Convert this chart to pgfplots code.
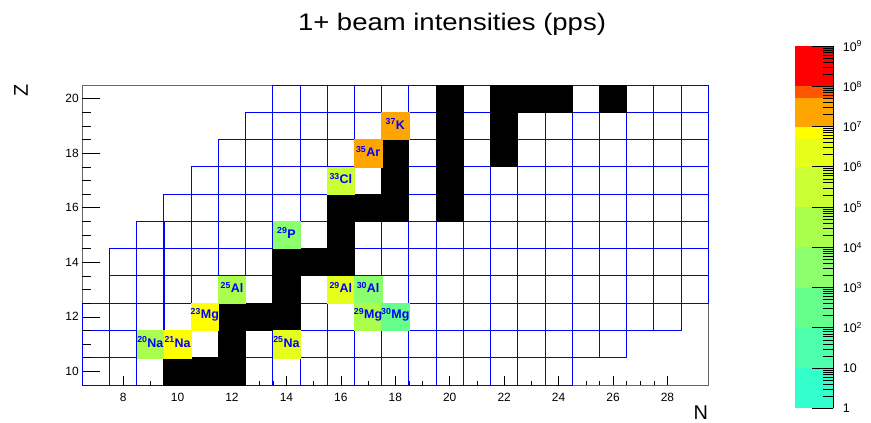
\documentclass[border=0pt]{standalone}
\usepackage{pgfplots}
\pgfplotsset{compat=1.18}
\usepackage{pgfplotstable}
\usepackage{fontspec}
\setmainfont{Liberation Sans}
\newfontfamily\titlefont[FakeStretch=1.15]{Liberation Sans}
\definecolor{cb0}{RGB}{51,255,204}
\definecolor{cb1}{RGB}{77,255,170}
\definecolor{cb2}{RGB}{102,255,140}
\definecolor{cb3}{RGB}{140,255,110}
\definecolor{cb4}{RGB}{170,255,77}
\definecolor{cb5}{RGB}{204,255,51}
\definecolor{cb6}{RGB}{230,255,26}
\definecolor{cb7}{RGB}{255,255,0}
\definecolor{cb8}{RGB}{255,165,0}
\definecolor{cb9}{RGB}{255,85,0}
\definecolor{cb10}{RGB}{255,0,0}
\definecolor{gridblue}{RGB}{0,0,255}

% beam cells: N Z band intensity(pps) label
\pgfplotstableread{
N  Z  band I   lab
9  11 b4   3e4 {\textsuperscript{20}Na}
10 11 b7   7e6 {\textsuperscript{21}Na}
11 12 b7   7e6 {\textsuperscript{23}Mg}
14 11 b6   2e6 {\textsuperscript{25}Na}
12 13 b4   3e4 {\textsuperscript{25}Al}
16 13 b6   2e6 {\textsuperscript{29}Al}
17 13 b3   3e3 {\textsuperscript{30}Al}
17 12 b4   3e4 {\textsuperscript{29}Mg}
18 12 b2   3e2 {\textsuperscript{30}Mg}
14 15 b3   3e3 {\textsuperscript{29}P}
16 17 b5   3e5 {\textsuperscript{33}Cl}
17 18 b8   2e7 {\textsuperscript{35}Ar}
18 19 b8   2e7 {\textsuperscript{37}K}
}\beams

\begin{document}
\begin{tikzpicture}
\path[use as bounding box] (0,0) rectangle (871bp,423bp);
\node[font=\titlefont\fontsize{24}{26}\selectfont, anchor=base] at (452bp,392bp) {1+ beam intensities (pps)};

\begin{axis}[
  at={(82.3bp,38bp)}, anchor=south west,
  scale only axis, width=626bp, height=300bp,
  xmin=6.5, xmax=29.5, ymin=9.5, ymax=20.5,
  xtick={8,10,...,28}, minor x tick num=3,
  ytick=\empty,
  xtick pos=left, tick align=inside,
  major tick length=9bp, minor tick length=4.5bp,
  axis line style={draw=black!60, line width=0.8bp},
  tick style={black, line width=0.6bp},
  /pgf/number format/assume math mode=true,
  xticklabel style={font=\fontsize{12}{13}\selectfont, yshift=-4.5bp},
  xlabel={N},
  xlabel style={at={(axis description cs:1,0)}, anchor=south east, yshift=-35bp, inner sep=0pt, font=\fontsize{20}{22}\selectfont},
]
% outlines of known nuclides
\addplot[only marks, mark=square, mark size=13.62bp, mark options={draw=gridblue, line width=0.9bp}] coordinates {
(7,10)(8,10)(9,10)(10,10)(11,10)(12,10)(13,10)(14,10)(15,10)(16,10)(17,10)(18,10)(19,10)(20,10)(21,10)(22,10)(23,10)(24,10)
(7,11)(8,11)(9,11)(10,11)(11,11)(12,11)(13,11)(14,11)(15,11)(16,11)(17,11)(18,11)(19,11)(20,11)(21,11)(22,11)(23,11)(24,11)(25,11)(26,11)
(7,12)(8,12)(9,12)(10,12)(11,12)(12,12)(13,12)(14,12)(15,12)(16,12)(17,12)(18,12)(19,12)(20,12)(21,12)(22,12)(23,12)(24,12)(25,12)(26,12)(27,12)(28,12)
(8,13)(9,13)(10,13)(11,13)(12,13)(13,13)(14,13)(15,13)(16,13)(17,13)(18,13)(19,13)(20,13)(21,13)(22,13)(23,13)(24,13)(25,13)(26,13)(27,13)(28,13)(29,13)
(8,14)(9,14)(10,14)(11,14)(12,14)(13,14)(14,14)(15,14)(16,14)(17,14)(18,14)(19,14)(20,14)(21,14)(22,14)(23,14)(24,14)(25,14)(26,14)(27,14)(28,14)(29,14)
(9,15)(10,15)(11,15)(12,15)(13,15)(14,15)(15,15)(16,15)(17,15)(18,15)(19,15)(20,15)(21,15)(22,15)(23,15)(24,15)(25,15)(26,15)(27,15)(28,15)(29,15)
(10,16)(11,16)(12,16)(13,16)(14,16)(15,16)(16,16)(17,16)(18,16)(19,16)(20,16)(21,16)(22,16)(23,16)(24,16)(25,16)(26,16)(27,16)(28,16)(29,16)
(11,17)(12,17)(13,17)(14,17)(15,17)(16,17)(17,17)(18,17)(19,17)(20,17)(21,17)(22,17)(23,17)(24,17)(25,17)(26,17)(27,17)(28,17)(29,17)
(12,18)(13,18)(14,18)(15,18)(16,18)(17,18)(18,18)(19,18)(20,18)(21,18)(22,18)(23,18)(24,18)(25,18)(26,18)(27,18)(28,18)(29,18)
(13,19)(14,19)(15,19)(16,19)(17,19)(18,19)(19,19)(20,19)(21,19)(22,19)(23,19)(24,19)(25,19)(26,19)(27,19)(28,19)(29,19)
(14,20)(15,20)(16,20)(17,20)(18,20)(19,20)(20,20)(21,20)(22,20)(23,20)(24,20)(25,20)(26,20)(27,20)(28,20)(29,20)
};
% stable nuclides
\addplot[only marks, mark=square*, mark size=13.62bp, mark options={fill=black, draw=black, line width=0.9bp}] coordinates {
(10,10)(11,10)(12,10)
(12,11)
(12,12)(13,12)(14,12)
(14,13)
(14,14)(15,14)(16,14)
(16,15)
(16,16)(17,16)(18,16)(20,16)
(18,17)(20,17)
(18,18)(20,18)(22,18)
(20,19)(22,19)
(20,20)(22,20)(23,20)(24,20)(26,20)
};
% beams: colour by intensity band
\addplot[scatter, only marks, mark=square*, mark size=13.62bp,
  point meta=explicit symbolic,
  scatter/classes={
    b0={mark=square*, fill=cb0, draw=cb0}, b1={mark=square*, fill=cb1, draw=cb1},
    b2={mark=square*, fill=cb2, draw=cb2}, b3={mark=square*, fill=cb3, draw=cb3},
    b4={mark=square*, fill=cb4, draw=cb4}, b5={mark=square*, fill=cb5, draw=cb5},
    b6={mark=square*, fill=cb6, draw=cb6}, b7={mark=square*, fill=cb7, draw=cb7},
    b8={mark=square*, fill=cb8, draw=cb8}, b9={mark=square*, fill=cb9, draw=cb9},
    b10={mark=square*, fill=cb10, draw=cb10}},
] table[x=N, y=Z, meta=band] {\beams};
% beam labels
\addplot[only marks, mark=none, point meta=explicit symbolic,
  nodes near coords,
  every node near coord/.append style={anchor=center, inner sep=0pt, yshift=2bp,
     text=gridblue, font=\bfseries\fontsize{12.5}{13}\selectfont},
] table[x=N, y=Z, meta=lab] {\beams};
\end{axis}

% y ticks (longer, as in the original)
\begin{axis}[
  at={(82.3bp,38bp)}, anchor=south west,
  scale only axis, width=626bp, height=300bp,
  xmin=6.5, xmax=29.5, ymin=9.5, ymax=20.5,
  xtick=\empty,
  ytick={10,12,...,20}, minor y tick num=3,
  ytick pos=left, tick align=inside,
  major tick length=18bp, minor tick length=9bp,
  axis line style={draw=none},
  tick style={black, line width=0.6bp},
  /pgf/number format/assume math mode=true,
  yticklabel style={font=\fontsize{12}{13}\selectfont},
  ylabel={Z},
  ylabel style={at={(axis description cs:-0.098,0.982)}, anchor=center, inner sep=0pt, font=\fontsize{20}{22}\selectfont},
]
\addplot[draw=none] coordinates {(7,10)};
\end{axis}

% colour scale
\begin{axis}[
  at={(795bp,14.7bp)}, anchor=south west,
  scale only axis, width=38.3bp, height=362.3bp,
  xmin=0, xmax=1, ymode=log, ymin=1, ymax=1e9,
  axis on top,
  axis x line=none, axis y line*=right,
  ytick={1,10,100,1000,10000,100000,1000000,10000000,100000000,1000000000},
  yticklabels={1,10,10\textsuperscript{2},10\textsuperscript{3},10\textsuperscript{4},10\textsuperscript{5},10\textsuperscript{6},10\textsuperscript{7},10\textsuperscript{8},10\textsuperscript{9}},
  tick align=inside,
  major tick length=21.7bp, minor tick length=10.7bp,
  axis line style={black, line width=0.6bp},
  tick style={black, line width=0.6bp},
  yticklabel style={font=\fontsize{12.5}{13}\selectfont, xshift=6bp},
]
\addplot[fill=cb0, draw=none] coordinates {(0,1) (1,1) (1,10) (0,10)};
\addplot[fill=cb1, draw=none] coordinates {(0,10) (1,10) (1,100) (0,100)};
\addplot[fill=cb2, draw=none] coordinates {(0,100) (1,100) (1,1e3) (0,1e3)};
\addplot[fill=cb3, draw=none] coordinates {(0,1e3) (1,1e3) (1,1e4) (0,1e4)};
\addplot[fill=cb4, draw=none] coordinates {(0,1e4) (1,1e4) (1,1e5) (0,1e5)};
\addplot[fill=cb5, draw=none] coordinates {(0,1e5) (1,1e5) (1,1e6) (0,1e6)};
\addplot[fill=cb6, draw=none] coordinates {(0,1e6) (1,1e6) (1,5e6) (0,5e6)};
\addplot[fill=cb7, draw=none] coordinates {(0,5e6) (1,5e6) (1,1e7) (0,1e7)};
\addplot[fill=cb8, draw=none] coordinates {(0,1e7) (1,1e7) (1,5e7) (0,5e7)};
\addplot[fill=cb9, draw=none] coordinates {(0,5e7) (1,5e7) (1,1e8) (0,1e8)};
\addplot[fill=cb10, draw=none] coordinates {(0,1e8) (1,1e8) (1,1e9) (0,1e9)};
\end{axis}
\end{tikzpicture}
\end{document}
